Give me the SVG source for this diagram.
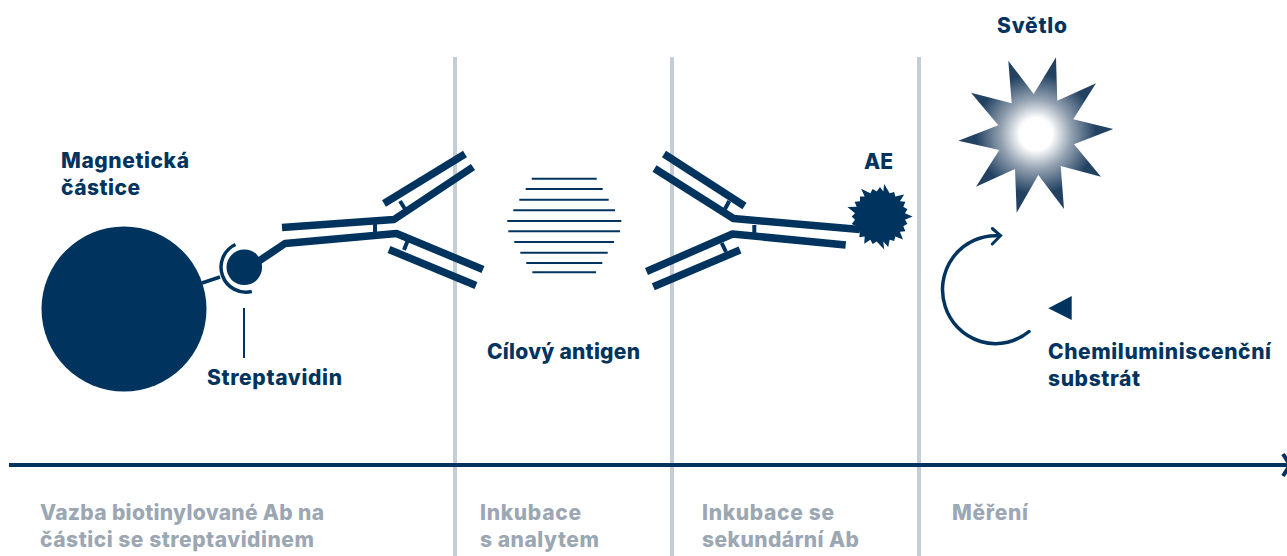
<svg xmlns="http://www.w3.org/2000/svg" width="1287" height="556" viewBox="0 0 1287 556">
<defs>
<radialGradient id="glow" gradientUnits="userSpaceOnUse" cx="1036" cy="134" r="60">
<stop offset="0" stop-color="#ffffff"/><stop offset="0.27" stop-color="#ffffff"/><stop offset="0.58" stop-color="#96a4b3"/><stop offset="1" stop-color="#234262"/>
</radialGradient>
</defs>
<style>
text{font-family:"Inter","Liberation Sans",sans-serif;font-weight:800;font-size:21px}
.d{fill:#00345f}
.g{fill:#9ba7b3}
.sep{stroke:#c5cdd6;stroke-width:4;fill:none}
.ab{stroke:#00345f;stroke-width:7.500;fill:none;stroke-linejoin:round}
.rung{stroke:#00345f;stroke-width:4;fill:none}
.ab2{stroke:#00345f;stroke-width:3.500;fill:none}
.hl{stroke:#00345f;stroke-width:2;fill:none}
.fill{fill:#00345f}
</style>
<g id="separators">
<line class="sep" x1="455" y1="57" x2="455" y2="556"/>
<line class="sep" x1="672" y1="57" x2="672" y2="556"/>
<line class="sep" x1="919" y1="57" x2="919" y2="556"/>
</g>
<g id="connectors">
<line x1="9" y1="465" x2="1287" y2="465" stroke="#00345f" stroke-width="4"/>
<path d="M1283 454L1290 465L1283 476" fill="none" stroke="#00345f" stroke-width="4"/>
<line x1="244" y1="308" x2="244" y2="358" stroke="#00345f" stroke-width="2"/>
</g>
<g id="magnetic-particle">
<circle class="fill" cx="124" cy="309" r="82.500"/>
<line x1="202" y1="283" x2="220" y2="277" stroke="#00345f" stroke-width="3.500"/>
<text class="d" x="61" y="168" textLength="128">Magnetická</text>
<text class="d" x="61" y="195" textLength="79">částice</text>
</g>
<g id="streptavidin">
<path class="ab2" d="M235.500 244.500A25 25 0 0 0 251.800 291.500"/>
<circle class="fill" cx="244.300" cy="267.300" r="17.800"/>
<text class="d" x="207" y="385" textLength="135">Streptavidin</text>
</g>
<g id="antibody-left">
<path class="ab" d="M282 227.500L394 219.500L473 167"/>
<path class="ab" d="M259 261L285 243.500L396.500 233.500L483 269.500"/>
<line class="ab" x1="384" y1="203.500" x2="465" y2="154"/>
<line class="ab" x1="389" y1="249.500" x2="476" y2="285.500"/>
<line class="rung" x1="375" y1="222" x2="375" y2="233"/>
<line class="rung" x1="400" y1="201" x2="405" y2="209"/>
<line class="rung" x1="407.500" y1="241" x2="404" y2="250"/>
</g>
<g id="target-antigen">
<g class="hl">
<line x1="531.700" y1="178.700" x2="596.700" y2="178.700"/>
<line x1="525.700" y1="189" x2="602.700" y2="189"/>
<line x1="519.300" y1="199.700" x2="608.700" y2="199.700"/>
<line x1="513.300" y1="210.300" x2="615" y2="210.300"/>
<line x1="507.300" y1="221" x2="621.300" y2="221"/>
<line x1="508.300" y1="231.300" x2="620" y2="231.300"/>
<line x1="514.300" y1="242" x2="614" y2="242"/>
<line x1="520.300" y1="252.700" x2="607.700" y2="252.700"/>
<line x1="526.300" y1="263" x2="602.300" y2="263"/>
<line x1="532.300" y1="272.300" x2="596" y2="272.300"/>
</g>
<text class="d" x="487" y="359" textLength="153">Cílový antigen</text>
</g>
<g id="antibody-right">
<line class="ab" x1="664" y1="154" x2="744.500" y2="206"/>
<path class="ab" d="M654.500 168.500L733.500 218.500L860 229.500"/>
<path class="ab" d="M646.500 271.500L732.500 234L845.700 245"/>
<line class="ab" x1="653.300" y1="286.700" x2="740" y2="250"/>
<line class="rung" x1="754.300" y1="225" x2="754.300" y2="235"/>
<line class="rung" x1="729.300" y1="201" x2="725" y2="209"/>
<line class="rung" x1="721.700" y1="243" x2="726" y2="252"/>
</g>
<g id="ae-label">
<polygon class="fill" transform="translate(880 216.500) scale(1.050) translate(-880 -216.500)" points="911,216.500 903.800,219.600 906.100,223.500 902.200,225.700 904.200,230.500 899,231.100 901.900,238.400 894.600,235.500 893.500,239.900 889.200,238.700 887.800,245.500 883.100,240.300 884,248 876.900,240.300 873,242.600 870.800,238.700 865,242.500 865.400,235.500 860.200,236.300 861,231.100 857.500,229.500 857.800,225.700 853,223.700 856.200,219.600 853,216.500 856.200,213.400 849,207.500 857.800,207.300 855.800,202.500 861,201.900 860.900,197.400 865.400,197.500 862,190 870.800,194.300 873,190.400 876.900,192.700 880,188.500 883.100,192.700 884,185.500 889.200,194.300 893.500,193.100 894.600,197.500 903,195.500 899,201.900 904.200,202.500 902.200,207.300 906.100,209.500 903.800,213.400"/>
<text class="d" x="864" y="169" textLength="29">AE</text>
</g>
<g id="light">
<polygon fill="url(#glow)" points="1056,57.300 1033.700,94 1008.300,60.700 1011.700,103.300 971,92.700 998.300,125.300 958.300,140.700 999.300,150 976,186.700 1015,169 1016.700,212.700 1038.300,175 1064,209 1060.700,166 1101,176.700 1074,144.300 1113.300,129 1073.300,119.300 1096,83.300 1057.300,100.700"/>
<text class="d" x="997" y="33" textLength="70">Světlo</text>
</g>
<g id="substrate">
<path d="M1029 331.500A53 54 0 1 1 998 235.700" fill="none" stroke="#00345f" stroke-width="3.500" stroke-linecap="round"/>
<path d="M992.300 228.500L1000.500 235.700L992.300 244" fill="none" stroke="#00345f" stroke-width="3" stroke-linecap="round"/>
<polygon class="fill" points="1048.300,308.300 1071.700,296 1071.700,320"/>
<text class="d" x="1048" y="359" textLength="223">Chemiluminiscenční</text>
<text class="d" x="1048" y="386" textLength="92">substrát</text>
</g>
<g id="steps">
<text class="g" x="40" y="520" textLength="284">Vazba biotinylované Ab na</text>
<text class="g" x="40" y="547" textLength="274">částici se streptavidinem</text>
<text class="g" x="480" y="520" textLength="101">Inkubace</text>
<text class="g" x="480" y="547" textLength="119">s analytem</text>
<text class="g" x="702" y="520" textLength="132">Inkubace se</text>
<text class="g" x="702" y="547" textLength="157">sekundární Ab</text>
<text class="g" x="952" y="520" textLength="76">Měření</text>
</g>
</svg>
